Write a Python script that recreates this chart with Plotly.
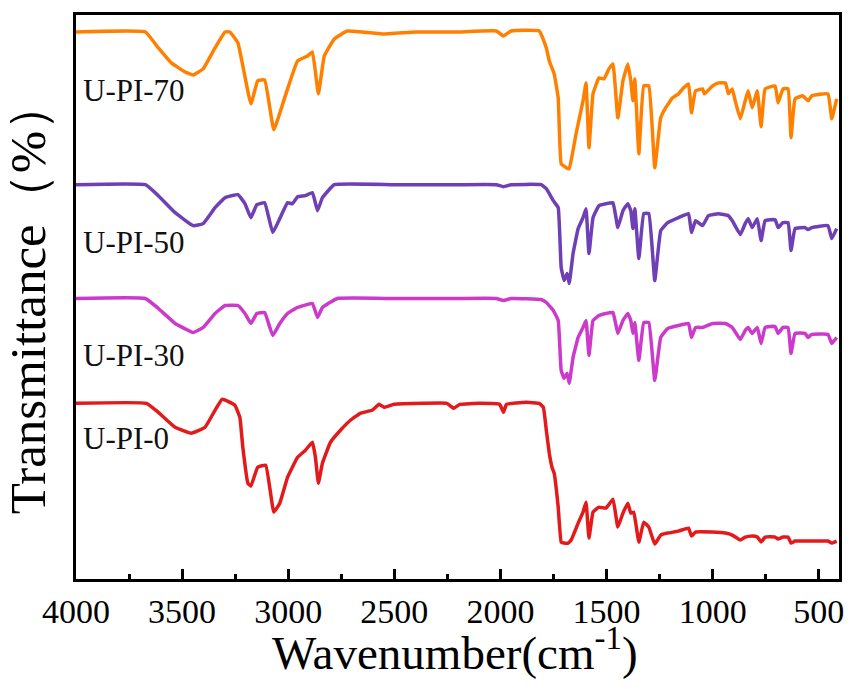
import plotly.graph_objects as go

# ---- data (wavenumber in cm^-1, transmittance in arbitrary stacked units) ----
wn_70 = [4000, 3673, 3612, 3551, 3486, 3448, 3401, 3345, 3298, 3275, 3237, 3176, 3144, 3111, 3068, 3017, 2956, 2909, 2886, 2858, 2830, 2783, 2722, 2558, 2400, 2206, 2020, 1986, 1950, 1817, 1784, 1770, 1747, 1728, 1714, 1690, 1676, 1644, 1611, 1597, 1583, 1564, 1536, 1512, 1489, 1470, 1447, 1423, 1400, 1386, 1376, 1367, 1348, 1325, 1301, 1273, 1245, 1222, 1189, 1161, 1137, 1114, 1100, 1081, 1048, 1039, 1001, 973, 940, 926, 908, 894, 870, 847, 833, 814, 790, 772, 753, 706, 692, 669, 645, 631, 612, 575, 551, 533, 457, 439, 416]
t_70 = [548, 548, 532, 517, 508, 505, 511, 532, 548, 548, 537, 476, 499, 500, 450, 482, 519, 524, 528, 486, 524, 541, 549, 546, 548, 548, 549, 544, 549, 549, 532, 519, 506, 482, 416, 412, 411, 446, 479, 497, 432, 486, 502, 501, 511, 516, 462, 499, 516, 499, 479, 501, 426, 494, 494, 412, 462, 472, 482, 486, 492, 496, 467, 489, 491, 486, 494, 497, 497, 486, 491, 479, 461, 479, 489, 472, 489, 453, 491, 494, 477, 491, 491, 442, 481, 484, 479, 484, 486, 461, 481]

wn_50 = [4000, 3673, 3612, 3533, 3448, 3401, 3345, 3298, 3237, 3204, 3176, 3148, 3111, 3073, 3040, 3003, 2980, 2956, 2919, 2886, 2862, 2839, 2783, 2500, 2206, 2020, 1986, 1950, 1808, 1784, 1751, 1728, 1714, 1700, 1686, 1676, 1658, 1634, 1611, 1597, 1583, 1564, 1536, 1503, 1470, 1447, 1423, 1400, 1386, 1376, 1367, 1348, 1325, 1301, 1273, 1245, 1212, 1161, 1114, 1100, 1081, 1048, 1020, 973, 926, 908, 870, 847, 833, 814, 790, 772, 753, 706, 692, 669, 645, 631, 612, 565, 551, 533, 457, 439, 416]
t_50 = [395, 395, 384, 367, 354, 356, 372, 382, 385, 376, 362, 375, 377, 347, 361, 377, 376, 383, 384, 387, 369, 382, 395, 395, 395, 395, 393, 395, 395, 391, 379, 372, 312, 299, 306, 296, 326, 351, 362, 371, 326, 362, 374, 376, 377, 352, 369, 376, 369, 351, 371, 321, 366, 366, 299, 349, 357, 362, 366, 347, 359, 354, 364, 366, 364, 359, 345, 356, 361, 352, 361, 339, 359, 360, 352, 357, 357, 329, 351, 352, 350, 352, 354, 341, 351]

wn_30 = [4000, 3673, 3612, 3533, 3448, 3401, 3345, 3298, 3237, 3204, 3176, 3148, 3111, 3073, 3040, 3003, 2956, 2886, 2862, 2839, 2769, 2500, 2206, 2020, 1986, 1950, 1808, 1784, 1751, 1728, 1714, 1700, 1686, 1676, 1658, 1634, 1611, 1597, 1583, 1564, 1536, 1503, 1470, 1447, 1423, 1400, 1386, 1376, 1367, 1348, 1325, 1301, 1273, 1245, 1212, 1161, 1114, 1100, 1081, 1048, 1001, 940, 908, 870, 847, 833, 814, 790, 772, 753, 706, 692, 669, 645, 631, 612, 565, 551, 533, 457, 439, 416]
t_30 = [281, 281, 271, 256, 247, 252, 266, 274, 274, 266, 256, 266, 267, 244, 256, 266, 272, 276, 262, 272, 281, 281, 281, 281, 279, 281, 280, 277, 269, 259, 209, 201, 206, 196, 222, 242, 252, 259, 224, 259, 264, 266, 267, 246, 259, 266, 259, 246, 257, 219, 257, 257, 199, 242, 251, 254, 256, 242, 252, 252, 256, 256, 252, 240, 249, 252, 246, 252, 236, 252, 253, 246, 252, 252, 226, 246, 246, 242, 245, 245, 236, 242]

wn_0 = [4000, 3668, 3612, 3533, 3457, 3392, 3345, 3312, 3284, 3251, 3228, 3214, 3190, 3176, 3144, 3106, 3068, 3040, 3003, 2956, 2919, 2886, 2872, 2858, 2839, 2801, 2754, 2707, 2661, 2605, 2572, 2548, 2501, 2361, 2253, 2220, 2192, 2098, 2004, 1986, 1972, 1878, 1817, 1798, 1784, 1770, 1756, 1747, 1728, 1714, 1700, 1681, 1667, 1634, 1611, 1597, 1583, 1564, 1536, 1503, 1470, 1447, 1423, 1400, 1386, 1372, 1348, 1325, 1301, 1273, 1245, 1212, 1161, 1114, 1100, 1081, 1001, 940, 908, 870, 847, 814, 790, 772, 753, 706, 692, 669, 645, 631, 612, 533, 457, 439, 416]
t_0 = [176, 176, 167, 152, 146, 152, 169, 180, 178, 174, 162, 132, 96, 93, 112, 114, 67, 76, 102, 122, 129, 137, 122, 96, 116, 137, 149, 159, 166, 169, 175, 172, 175, 176, 176, 171, 175, 176, 175, 167, 175, 177, 176, 172, 149, 126, 111, 106, 72, 37, 36, 36, 39, 56, 67, 77, 41, 67, 72, 71, 80, 52, 66, 76, 66, 67, 37, 57, 52, 35, 44, 46, 48, 51, 43, 47, 47, 46, 44, 39, 42, 43, 42, 37, 42, 42, 40, 42, 42, 36, 38, 38, 38, 36, 38]

series_names = ["U-PI-70", "U-PI-50", "U-PI-30", "U-PI-0"]
series_x = [wn_70, wn_50, wn_30, wn_0]
series_y = [t_70, t_50, t_30, t_0]
series_colors = ["#FF8000", "#6F3FB5", "#CC3ACC", "#E31A1C"]
label_y = [489, 337, 224, 141]

x_ticks = [4000, 3500, 3000, 2500, 2000, 1500, 1000, 500]

SERIF = "Liberation Serif"

fig = go.Figure()
for name, xs, ys, col in zip(series_names, series_x, series_y, series_colors):
    fig.add_trace(go.Scatter(x=xs, y=ys, mode="lines", name=name,
                             line=dict(color=col, width=3.5, shape="spline", smoothing=0.3),
                             showlegend=False))

for name, ly in zip(series_names, label_y):
    fig.add_annotation(x=3975, y=ly, xref="x", yref="y", text=name, showarrow=False,
                       xanchor="left", yanchor="middle",
                       font=dict(family=SERIF, size=31, color="#111111"))

# x-axis title placed as a paper-anchored annotation (sits closer to the tick labels)
fig.add_annotation(x=0.497, y=-0.069, xref="paper", yref="paper",
                   text="Wavenumber(cm<sup>-1</sup>)", showarrow=False,
                   xanchor="center", yanchor="top",
                   font=dict(family=SERIF, size=47, color="black"))

fig.update_layout(
    width=856, height=689,
    margin=dict(l=76, r=13, t=14, b=110),
    paper_bgcolor="white", plot_bgcolor="white",
    font=dict(family=SERIF, color="black"),
)
fig.update_xaxes(
    range=[4000, 405], tickmode="array", tickvals=x_ticks,
    ticktext=[str(v) for v in x_ticks],
    ticks="inside", ticklen=10, tickwidth=2.5, tickcolor="black",
    minor=dict(ticks="inside", ticklen=5, tickwidth=2.5, tickcolor="black", dtick=250, tick0=500),
    showline=True, linewidth=3, linecolor="black", mirror=True,
    showgrid=False, zeroline=False,
    tickfont=dict(family=SERIF, size=34, color="black"),
)
fig.update_yaxes(
    range=[0, 565], showticklabels=False, ticks="",
    showline=True, linewidth=3, linecolor="black", mirror=True,
    showgrid=False, zeroline=False,
    title=dict(text="Transmittance（%）", font=dict(family=SERIF, size=51, color="black"), standoff=14),
)

fig.write_html("out.html")
